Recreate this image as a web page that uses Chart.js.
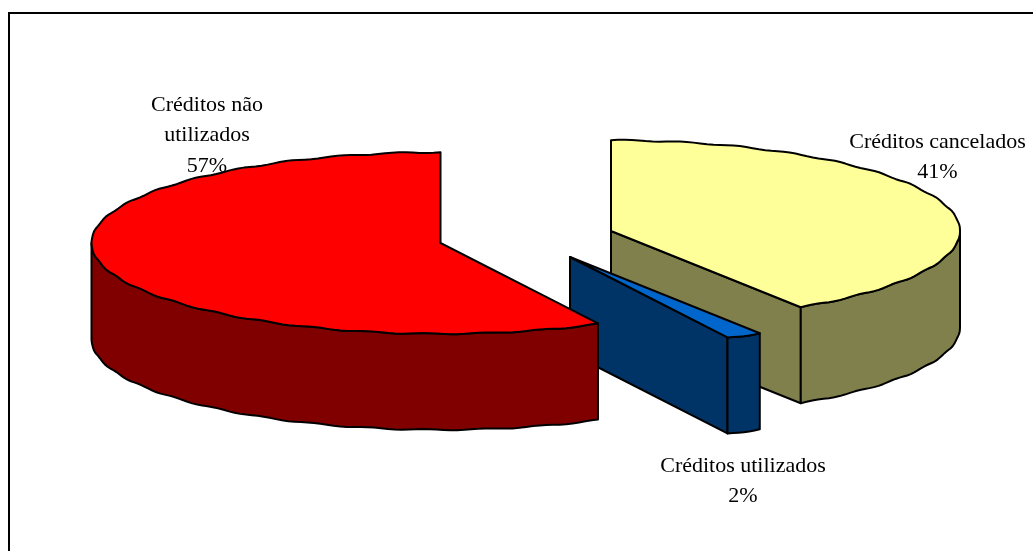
<!DOCTYPE html>
<html lang="pt">
<head>
    <meta charset="UTF-8">
    <title>Créditos</title>
    <script src="https://cdn.jsdelivr.net/npm/chart.js"></script>
    <style>
        html, body { margin: 0; padding: 0; background: #fff; overflow: hidden; }
        canvas { display: block; }
        #frame {
            position: absolute; left: 8px; top: 12px; right: 0; bottom: 0;
            border-left: 2px solid #000; border-top: 2px solid #000;
        }
    </style>
</head>
<body>
    <canvas id="pie" width="1033" height="551"></canvas>
    <div id="frame"></div>

    <script>
        // Values (percent of total)
        const categories = ['Créditos cancelados', 'Créditos utilizados', 'Créditos não utilizados'];
        const values = [40.85, 1.7, 57.45];

        const topColors = ['#FFFF99', '#0066CC', '#FF0000'];
        const wallColors = ['#80804C', '#003366', '#800000'];

        // Look of the tilted pie
        const radius = 349;
        const tilt = 0.26;
        const depth = 96;
        const explode = [[94.5, -44.5], [53.5, -18.5], [-76, -32.5]]; // shift of each slice from the chart centre
        const labelSpots = [[937.5, 142], [743, 466], [207, 105]];
        const labelWrap = 190;
        const lineHeight = 30.5;

        // The original rim is a little bumpy
        function rim(arc, i, a, drop) {
            return [
                arc.x + explode[i][0] + radius * Math.cos(a),
                arc.y + explode[i][1] + radius * tilt * Math.sin(a) + 0.6 * Math.sin(a * 38) + drop
            ];
        }

        function rimPath(ctx, arc, i, from, to, drop) {
            const steps = Math.max(2, Math.ceil(Math.abs(to - from) / 0.02));
            for (let s = 0; s <= steps; s++) {
                const p = rim(arc, i, from + (to - from) * s / steps, drop);
                ctx.lineTo(p[0], p[1]);
            }
        }

        function paint(ctx, fill) {
            ctx.closePath();
            ctx.fillStyle = fill;
            ctx.fill();
            ctx.stroke();
        }

        function drawCut(ctx, arc, i, a) {
            const ax = arc.x + explode[i][0], ay = arc.y + explode[i][1];
            const p = rim(arc, i, a, 0);
            ctx.beginPath();
            ctx.moveTo(ax, ay);
            ctx.lineTo(p[0], p[1]);
            ctx.lineTo(p[0], p[1] + depth);
            ctx.lineTo(ax, ay + depth);
            paint(ctx, wallColors[i]);
        }

        const tiltedPie = {
            id: 'tiltedPie',
            beforeDatasetDraw() {
                return false; // slices are painted below, one by one
            },
            afterDatasetsDraw(chart) {
                const ctx = chart.ctx;
                ctx.save();
                ctx.strokeStyle = '#000';
                ctx.lineWidth = 2;
                ctx.lineJoin = 'round';

                chart.getDatasetMeta(0).data.forEach((arc, i) => {
                    const start = arc.startAngle, end = arc.endAngle;

                    // side faces that turn towards the viewer
                    if (Math.cos(start) < -1e-6) drawCut(ctx, arc, i, start);
                    if (Math.cos(end) > 1e-6) drawCut(ctx, arc, i, end);

                    // outer wall, lower half of the rim only
                    const from = Math.max(start, 0), to = Math.min(end, Math.PI);
                    if (to > from) {
                        ctx.beginPath();
                        rimPath(ctx, arc, i, from, to, 0);
                        rimPath(ctx, arc, i, to, from, depth);
                        paint(ctx, wallColors[i]);
                    }

                    // top face, through the library's arc element
                    ctx.save();
                    ctx.translate(arc.x + explode[i][0], arc.y + explode[i][1]);
                    ctx.scale(1, tilt);
                    ctx.translate(-arc.x, -arc.y);
                    arc.draw(ctx);
                    ctx.restore();

                    ctx.beginPath();
                    ctx.moveTo(arc.x + explode[i][0], arc.y + explode[i][1]);
                    rimPath(ctx, arc, i, start, end, 0);
                    ctx.closePath();
                    ctx.stroke();
                });

                // labels
                ctx.fillStyle = '#000';
                ctx.font = '22px "Liberation Serif"';
                ctx.textAlign = 'center';
                ctx.textBaseline = 'middle';
                categories.forEach((name, i) => {
                    const lines = [];
                    name.split(' ').forEach(word => {
                        const last = lines[lines.length - 1];
                        if (last && ctx.measureText(last + ' ' + word).width <= labelWrap) {
                            lines[lines.length - 1] = last + ' ' + word;
                        } else {
                            lines.push(word);
                        }
                    });
                    lines.push(Math.round(values[i]) + '%');
                    lines.forEach((line, n) => {
                        ctx.fillText(line, labelSpots[i][0], labelSpots[i][1] + n * lineHeight);
                    });
                });
                ctx.restore();
            }
        };

        new Chart(document.getElementById('pie'), {
            type: 'pie',
            data: {
                labels: categories,
                datasets: [{
                    data: values,
                    backgroundColor: topColors,
                    borderWidth: 0
                }]
            },
            options: {
                responsive: false,
                animation: false,
                radius: radius,
                plugins: {
                    legend: { display: false },
                    tooltip: { enabled: false }
                }
            },
            plugins: [tiltedPie]
        });
    </script>
</body>
</html>
